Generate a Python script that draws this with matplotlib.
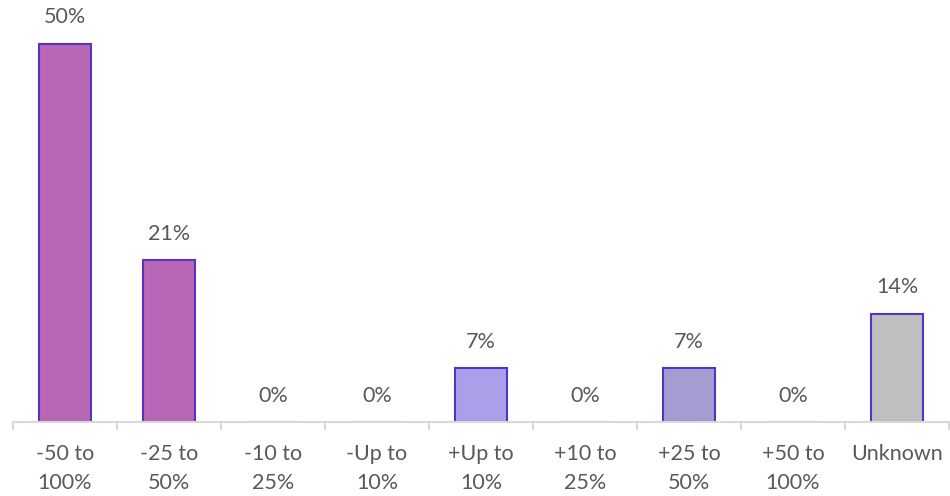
import matplotlib.pyplot as plt

categories = ['-50 to\n100%', '-25 to\n50%', '-10 to\n25%', '-Up to\n10%', '+Up to\n10%',
              '+10 to\n25%', '+25 to\n50%', '+50 to\n100%', 'Unknown']
values = [50.0, 21.4, 0, 0, 7.1, 0, 7.1, 0, 14.3]
labels = ['50%', '21%', '0%', '0%', '7%', '0%', '7%', '0%', '14%']
colors = ['#B767B4', '#B767B4', '#B767B4', '#B767B4', '#AC9FE9',
          '#A39DD1', '#A39DD1', '#A39DD1', '#BFBFBF']

plt.rcParams['font.family'] = ['Lato', 'DejaVu Sans']

fig = plt.figure(figsize=(9.5, 4.96), dpi=100)
ax = fig.add_axes([13 / 950, (496 - 422) / 496, 936 / 950, 422 / 496])

x = list(range(len(categories)))
ax.bar(x, values, width=0.5, color=colors, edgecolor='#5632C8', linewidth=1.5, zorder=2)

for xi, v, lab in zip(x, values, labels):
    ax.annotate(lab, (xi, v), xytext=(0, 19), textcoords='offset points',
                ha='center', va='center', fontsize=15.5, color='#595959')

ax.set_xlim(-0.5, len(categories) - 0.5)
ax.set_ylim(0, 55.8)
ax.set_yticks([])
for s in ['top', 'right', 'left']:
    ax.spines[s].set_visible(False)
ax.spines['bottom'].set_color('#D9D9D9')
ax.spines['bottom'].set_linewidth(1.5)

ax.set_xticks([i - 0.5 for i in range(len(categories) + 1)])
ax.set_xticklabels([])
ax.set_xticks(x, minor=True)
ax.set_xticklabels(categories, minor=True, fontsize=15.5, color='#595959', linespacing=1.55)
ax.tick_params(axis='x', which='major', length=6, width=1.5, color='#D9D9D9', direction='out')
ax.tick_params(axis='x', which='minor', length=0, pad=16)

fig.savefig('out.png', dpi=100)
